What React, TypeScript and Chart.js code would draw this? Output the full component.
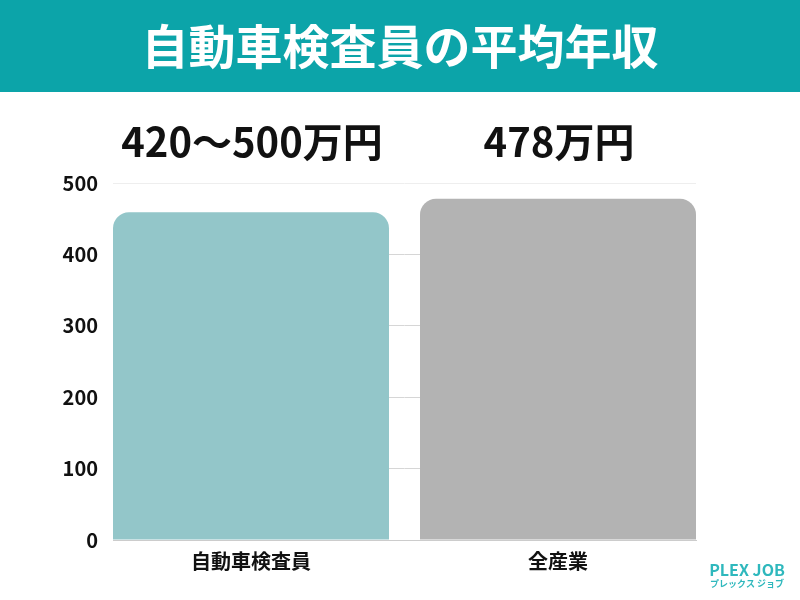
import React, { useEffect, useRef } from "react";
import { Chart, registerables } from "chart.js";

Chart.register(...registerables);

const TITLE = "自動車検査員の平均年収";
const categories = ["自動車検査員", "全産業"];
const values = [459, 478];
const valueLabels = ["420〜500万円", "478万円"];
const barColors = ["#93c6c9", "#b3b3b3"];
const yTicks = [0, 100, 200, 300, 400, 500];

const FONT = "'Noto Sans CJK JP', 'Noto Sans', sans-serif";

const overlayPlugin = {
  id: "overlay",
  beforeDraw(chart: any) {
    const { ctx, width } = chart;
    ctx.save();
    ctx.fillStyle = "#ffffff";
    ctx.fillRect(0, 0, width, chart.height);
    ctx.fillStyle = "#0ca4a9";
    ctx.fillRect(0, 0, width, 92);
    ctx.fillStyle = "#ffffff";
    ctx.font = `bold 47px ${FONT}`;
    ctx.textAlign = "center";
    ctx.textBaseline = "middle";
    ctx.fillText(TITLE, width / 2, 46);
    ctx.restore();
  },
  afterDraw(chart: any) {
    const { ctx } = chart;
    const meta = chart.getDatasetMeta(0);
    ctx.save();
    ctx.fillStyle = "#111111";
    ctx.font = `bold 40px ${FONT}`;
    ctx.textAlign = "center";
    ctx.textBaseline = "middle";
    meta.data.forEach((bar: any, i: number) => {
      ctx.fillText(valueLabels[i], bar.x + 1, 142);
    });
    // logo
    ctx.fillStyle = "#2fb8bd";
    ctx.font = `bold 16px ${FONT}`;
    ctx.textAlign = "center";
    ctx.fillText("PLEX JOB", 747, 570);
    ctx.font = `bold 9px ${FONT}`;
    ctx.fillText("プレックス ジョブ", 747, 584);
    ctx.restore();
  },
};

export default function App() {
  const ref = useRef<HTMLCanvasElement>(null);
  useEffect(() => {
    if (!ref.current) return;
    const chart = new Chart(ref.current, {
      type: "bar",
      data: {
        datasets: [
          {
            data: values.map((v, i) => ({ x: i, y: v })),
            backgroundColor: barColors,
            borderRadius: { topLeft: 16, topRight: 16, bottomLeft: 0, bottomRight: 0 },
            borderSkipped: "bottom",
            categoryPercentage: 1,
            barPercentage: 0.899,
          },
        ],
      },
      options: {
        animation: false,
        responsive: false,
        maintainAspectRatio: false,
        devicePixelRatio: 1,
        layout: { padding: { top: 183, right: 104, left: 0, bottom: 0 } },
        plugins: { legend: { display: false }, tooltip: { enabled: false }, title: { display: false } },
        scales: {
          x: {
            type: "linear",
            min: -0.4495,
            max: 1.4495,
            offset: false,
            grid: { display: false },
            border: { display: true, color: "#cccccc" },
            afterBuildTicks(scale: any) {
              scale.ticks = categories.map((_, i) => ({ value: i }));
            },
            ticks: {
              color: "#111111",
              font: { family: FONT, size: 20, weight: "bold" },
              padding: 1,
              autoSkip: false,
              maxRotation: 0,
              callback: (v: any) => categories[Math.round(Number(v))] ?? "",
            },
            afterFit(scale: any) {
              scale.height = 60;
            },
          },
          y: {
            min: 0,
            max: 500,
            border: { display: false },
            grid: { color: (c: any) => (c.tick && c.tick.value === 500 ? "#eeeeee" : "#d6d6d6"), drawTicks: false },
            ticks: {
              stepSize: 100,
              color: "#111111",
              font: { family: FONT, size: 20, weight: "bold" },
              padding: 15,
              callback: (v: any) => (yTicks.includes(Number(v)) ? String(v) : ""),
            },
            afterFit(scale: any) {
              scale.width = 113;
            },
          },
        },
      },
      plugins: [overlayPlugin],
    });
    return () => chart.destroy();
  }, []);
  return (
    <div style={{ position: "absolute", left: 0, top: 0, width: 800, height: 600 }}>
      <canvas ref={ref} width={800} height={600} style={{ width: 800, height: 600 }} />
    </div>
  );
}
